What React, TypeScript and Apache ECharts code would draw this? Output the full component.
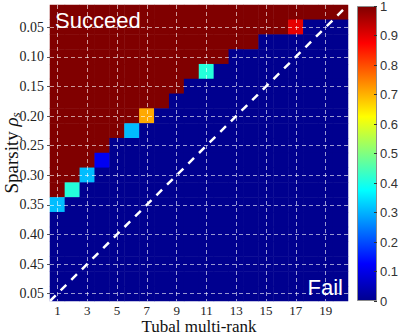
import React, { useEffect, useRef } from "react";
import * as echarts from "echarts";

// ---- data ----
const ranks = ["1","2","3","4","5","6","7","8","9","10","11","12","13","14","15","16","17","18","19","20"];
const sparsityRows = ["0.025","0.050","0.075","0.100","0.125","0.150","0.175","0.200","0.225","0.250","0.275","0.300","0.325","0.350","0.375","0.400","0.425","0.450","0.475","0.500"];
const xTickLabels = ["1","3","5","7","9","11","13","15","17","19"];
const yTickLabels = ["0.05","0.10","0.15","0.20","0.25","0.30","0.35","0.40","0.45","0.05"];
// number of fully recovered rows (value 1) from the top, per rank
const successDepth = [13,12,11,10,9,8,7,7,6,5,4,4,3,3,2,2,1,1,1,1];
// value of the cell right below the recovered block, per rank
const boundaryValue = [0.31,0.41,0.31,0.11,0,0.31,0.71,0,0,0,0.41,0,0,0,0,0,0.9,0,0,0];
const colorbarValue = [1];
const diagonalPoints = [[0, 20], [20, 0]];
const jetColors = ["#00008F","#0000FF","#0080FF","#00FFFF","#80FF80","#FFFF00","#FF8000","#FF0000","#800000"];

const heatData: number[][] = [];
ranks.forEach((_, c) => {
  sparsityRows.forEach((__, r) => {
    const d = successDepth[c];
    const v = r < d ? 1 : r === d ? boundaryValue[c] : 0;
    heatData.push([c, r, v]);
  });
});

const serif = "'Liberation Serif', 'DejaVu Serif', serif";
const sans = "'Liberation Sans', Arial, sans-serif";

export default function App() {
  const ref = useRef<HTMLDivElement>(null);
  useEffect(() => {
    if (!ref.current) return;
    const chart = echarts.init(ref.current, undefined, { renderer: "svg" });
    const xInt = (i: number) => i % 2 === 0;
    const yInt = (i: number) => i % 2 === 1;
    const gradStops = jetColors
      .map((c, i) => ({ offset: 1 - i / (jetColors.length - 1), color: c }))
      .reverse();
    chart.setOption({
      animation: false,
      grid: [
        { left: 50, top: 5, width: 298, height: 296, containLabel: false, outerBoundsMode: "none" },
        { left: 357, top: 6, width: 20, height: 295, containLabel: false, outerBoundsMode: "none" },
      ],
      visualMap: {
        show: false,
        type: "continuous",
        min: 0,
        max: 1,
        seriesIndex: 0,
        dimension: 2,
        inRange: { color: jetColors },
      },
      xAxis: [
        {
          type: "category",
          gridIndex: 0,
          data: ranks,
          name: "Tubal multi-rank",
          nameLocation: "middle",
          nameGap: 17,
          nameMoveOverlap: false,
          nameTextStyle: { fontFamily: serif, fontSize: 17, color: "#111" },
          axisLine: { show: false },
          axisTick: { show: true, alignWithLabel: true, interval: xInt, length: 3, lineStyle: { color: "#555" } },
          axisLabel: {
            interval: xInt,
            formatter: (_v: string, i: number) => xTickLabels[i / 2],
            fontFamily: serif,
            fontSize: 13,
            color: "#222",
            margin: 3,
          },
          splitLine: { show: false },
        },
        { type: "value", gridIndex: 0, min: 0, max: 20, show: false },
        { type: "category", gridIndex: 1, data: ["cb"], show: false },
      ],
      yAxis: [
        {
          type: "category",
          gridIndex: 0,
          data: sparsityRows,
          inverse: true,
          name: "{a|Sparsity }{b|ρ}{c|s}",
          nameLocation: "middle",
          nameRotate: 90,
          nameGap: 28,
          nameMoveOverlap: false,
          nameTextStyle: {
            rich: {
              a: { fontFamily: serif, fontSize: 19, color: "#111" },
              b: { fontFamily: serif, fontSize: 19, fontStyle: "italic", color: "#111" },
              c: { fontFamily: serif, fontSize: 13, fontStyle: "italic", color: "#111", verticalAlign: "bottom", padding: [8, 0, 0, 0] },
            },
          },
          axisLine: { show: false },
          axisTick: { show: true, alignWithLabel: true, interval: yInt, length: 3, lineStyle: { color: "#555" } },
          axisLabel: {
            interval: yInt,
            formatter: (_v: string, i: number) => yTickLabels[(i - 1) / 2],
            fontFamily: serif,
            fontSize: 14,
            color: "#222",
            margin: 6,
          },
          splitLine: { show: false },
        },
        { type: "value", gridIndex: 0, min: 0, max: 20, inverse: true, show: false },
        {
          type: "value",
          gridIndex: 1,
          min: 0,
          max: 1,
          interval: 0.1,
          position: "right",
          z: 5,
          axisLine: { show: false },
          axisTick: { show: true, inside: true, length: 3, lineStyle: { color: "#333" } },
          splitLine: { show: false },
          axisLabel: {
            formatter: (v: number) => (v === 0 ? "0" : v === 1 ? "1" : v.toFixed(1)),
            fontFamily: sans,
            fontSize: 13,
            color: "#333",
            margin: 3,
          },
        },
      ],
      series: [
        {
          type: "heatmap",
          xAxisIndex: 0,
          yAxisIndex: 0,
          data: heatData,
          z: 2,
        },
        {
          type: "line",
          xAxisIndex: 1,
          yAxisIndex: 1,
          data: diagonalPoints,
          symbol: "none",
          silent: true,
          z: 5,
          lineStyle: { color: "#ffffff", width: 2.5, type: [8, 7] },
          markLine: {
            symbol: "none",
            silent: true,
            label: { show: false },
            lineStyle: { color: "rgba(255,255,255,0.6)", type: [4, 3], width: 1 },
            data: [
              ...xTickLabels.map((l) => ({ xAxis: Number(l) - 0.5 })),
              ...yTickLabels.map((_, k) => ({ yAxis: 2 * k + 1.5 })),
            ],
          },
        },
        {
          type: "bar",
          xAxisIndex: 2,
          yAxisIndex: 2,
          data: colorbarValue,
          barWidth: "100%",
          silent: true,
          itemStyle: {
            color: new echarts.graphic.LinearGradient(0, 0, 0, 1, gradStops),
            borderColor: "#8c8c8c",
            borderWidth: 1,
          },
        },
      ],
      graphic: [
        {
          type: "text",
          z: 100,
          style: { x: 55, y: 20.5, text: "Succeed", font: `22px ${sans}`, fill: "#ffffff", align: "left", verticalAlign: "middle" },
        },
        {
          type: "text",
          z: 100,
          style: { x: 343, y: 287, text: "Fail", font: `22px ${sans}`, fill: "#ffffff", align: "right", verticalAlign: "middle" },
        },
      ],
    });
    return () => chart.dispose();
  }, []);
  return (
    <div
      ref={ref}
      style={{ position: "fixed", left: 0, top: 0, width: 399, height: 336, background: "#fff" }}
    />
  );
}
